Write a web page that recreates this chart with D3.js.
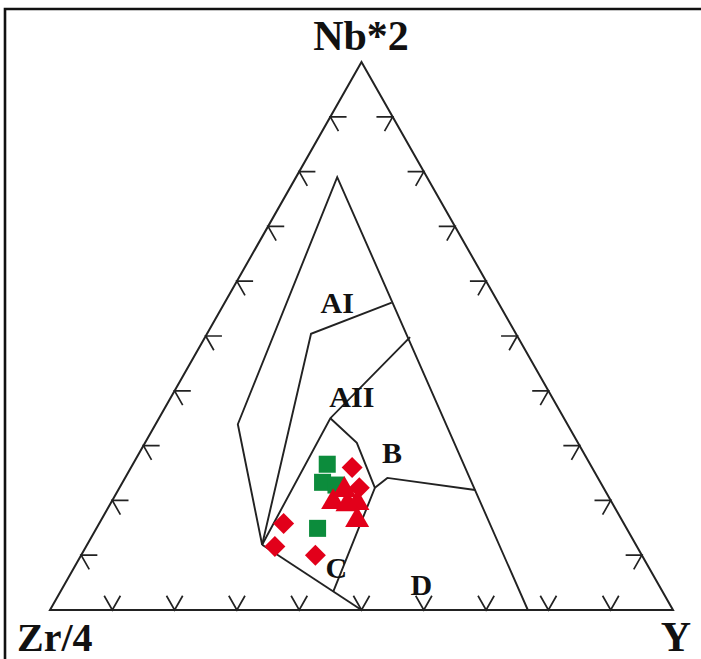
<!DOCTYPE html>
<html>
<head>
<meta charset="utf-8">
<script src="https://cdn.jsdelivr.net/npm/d3@7/dist/d3.min.js"></script>
<style>
  html, body { margin: 0; padding: 0; background: #fff; }
  svg { display: block; }
  text { font-family: "Liberation Serif", "Times New Roman", serif; font-weight: bold; fill: #111; }
</style>
</head>
<body>
<svg id="chart" width="701" height="659"></svg>
<script>
// Apex labels of the Zr/4 - Nb*2 - Y ternary (Meschede-type discrimination diagram)
const apexLabels = ["Nb*2", "Zr/4", "Y"];

// Field boundary polylines, each vertex as [Nb*2, Zr/4, Y] in percent
const fieldEnvelope = [[11.9, 60.0, 28.1], [33.9, 52.9, 13.2], [79.0, 14.4, 6.6], [0, 23.3, 76.7]];
const boundaryAI = [[56.1, 17.1, 26.8], [50.4, 32.9, 16.7], [11.9, 60.0, 28.1]];
const boundaryAII = [[49.8, 17.3, 32.9], [35.0, 37.5, 27.5], [11.9, 60.0, 28.1]];
const boundaryCB = [[35.0, 37.5, 27.5], [30.5, 35.5, 34.0], [22.3, 36.7, 41.0], [3.3, 52.9, 43.8]];
const boundaryC = [[11.9, 60.0, 28.1], [0, 50, 50]];
const boundaryBD = [[22.3, 36.7, 41.0], [24.1, 33.8, 42.1], [21.9, 20.8, 57.3]];

// Field names and their positions [Nb*2, Zr/4, Y]
const fieldNames = ["AI", "AII", "B", "C", "D"];
const fieldPositions = [[56.2, 25.8, 18.0], [38.9, 32.1, 29.0], [28.8, 30.7, 40.5], [7.7, 50.2, 42.1], [4.6, 38.1, 57.3]];

// Axis tick positions along each side (percent)
const tickValues = [10, 20, 30, 40, 50, 60, 70, 80, 90];

// Samples [Nb*2, Zr/4, Y] in percent
const squareSamples = [[26.6, 42.2, 31.2], [23.3, 44.6, 32.1], [22.8, 42.7, 34.5], [14.9, 49.6, 35.5]];
const diamondSamples = [[26.0, 38.5, 35.5], [22.3, 39.2, 38.5], [15.8, 54.6, 29.6], [11.6, 58.1, 30.3], [10.0, 52.4, 37.6]];
const triangleSamples = [[19.7, 44.7, 35.6], [21.9, 41.8, 36.3], [19.3, 42.6, 38.1], [19.5, 40.9, 39.6], [16.4, 42.5, 41.1]];

const svg = d3.select("#chart");

// Cartesian scales for the ternary plane: u = Y + Nb/2, v = Nb
const xScale = d3.scaleLinear().domain([0, 1]).range([50, 673]);
const yScale = d3.scaleLinear().domain([0, 1]).range([610, 62]);

function project(p) {
  const s = p[0] + p[1] + p[2];
  const nb = p[0] / s, y = p[2] / s;
  return [xScale(y + nb / 2), yScale(nb)];
}

const line = d3.line().x(d => project(d)[0]).y(d => project(d)[1]);

// Outer frame
svg.append("path")
  .attr("d", "M5,659 L5,9 L701,9")
  .attr("fill", "none").attr("stroke", "#111").attr("stroke-width", 2.6);

// Triangle outline
svg.append("path")
  .attr("d", line([[100, 0, 0], [0, 100, 0], [0, 0, 100]]) + "Z")
  .attr("fill", "none").attr("stroke", "#222").attr("stroke-width", 2)
  .attr("stroke-linejoin", "miter");

// Tick marks: two short arms running along the grid directions into the triangle
const d = 2.6;
const ticks = [];
tickValues.forEach(t => {
  // base (Zr-Y side)
  ticks.push([[d, 100 - t, t - d], [0, 100 - t, t], [d, 100 - t - d, t]]);
  // left side (Zr-Nb)
  ticks.push([[t, 100 - t - d, d], [t, 100 - t, 0], [t - d, 100 - t, d]]);
  // right side (Nb-Y)
  ticks.push([[t, d, 100 - t - d], [t, 0, 100 - t], [t - d, d, 100 - t]]);
});
svg.append("g").selectAll("path").data(ticks).join("path")
  .attr("d", line)
  .attr("fill", "none").attr("stroke", "#222").attr("stroke-width", 1.7);

// Field boundaries
const boundaries = [fieldEnvelope, boundaryAI, boundaryAII, boundaryCB, boundaryC, boundaryBD];
svg.append("g").selectAll("path").data(boundaries).join("path")
  .attr("d", line)
  .attr("fill", "none").attr("stroke", "#222").attr("stroke-width", 1.9)
  .attr("stroke-linejoin", "miter");

// Field names
svg.append("g").selectAll("text").data(fieldNames).join("text")
  .attr("x", (n, i) => project(fieldPositions[i])[0])
  .attr("y", (n, i) => project(fieldPositions[i])[1])
  .attr("text-anchor", "middle")
  .attr("dominant-baseline", "central")
  .attr("font-size", 30)
  .text(n => n);

// Samples
const green = "#0c8c3c", red = "#e2001a";
svg.append("g").selectAll("path").data(squareSamples).join("path")
  .attr("transform", p => `translate(${project(p)})`)
  .attr("d", d3.symbol(d3.symbolSquare, 290))
  .attr("fill", green);
svg.append("g").selectAll("path").data(diamondSamples).join("path")
  .attr("transform", p => `translate(${project(p)}) rotate(45)`)
  .attr("d", d3.symbol(d3.symbolSquare, 220))
  .attr("fill", red);
svg.append("g").selectAll("path").data(triangleSamples).join("path")
  .attr("transform", p => `translate(${project(p)})`)
  .attr("d", d3.symbol(d3.symbolTriangle, 250))
  .attr("fill", red);

// Apex labels
svg.append("text").attr("x", 361).attr("y", 50).attr("text-anchor", "middle")
  .attr("font-size", 42).text(apexLabels[0]);
svg.append("text").attr("x", 17).attr("y", 651).attr("text-anchor", "start")
  .attr("font-size", 40).text(apexLabels[1]);
svg.append("text").attr("x", 691).attr("y", 651).attr("text-anchor", "end")
  .attr("font-size", 42).text(apexLabels[2]);
</script>
</body>
</html>
